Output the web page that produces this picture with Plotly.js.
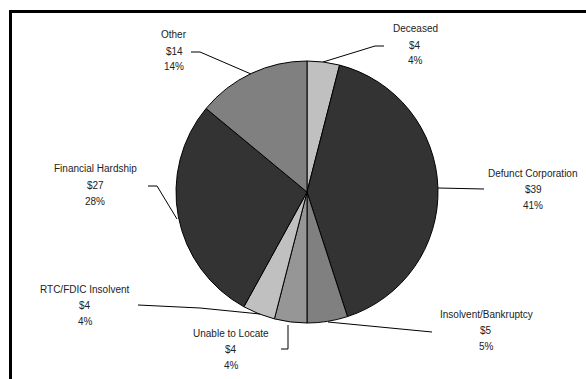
<!DOCTYPE html>
<html>
<head>
<meta charset="utf-8">
<script src="https://cdn.plot.ly/plotly-3.0.1.min.js"></script>
<style>html,body{margin:0;padding:0;background:#fff;overflow:hidden;}#chart{width:586px;height:379px;overflow:hidden;}</style>
</head>
<body>
<div id="chart"></div>
<script>
// Data
var categories = ["Deceased", "Defunct Corporation", "Insolvent/Bankruptcy", "Unable to Locate", "RTC/FDIC Insolvent", "Financial Hardship", "Other"];
var dollars = [4, 39, 5, 4, 4, 27, 14];
var percents = [4, 41, 5, 4, 4, 28, 14];

// Styles / layout (pixel positions in the 586x379 figure)
var sliceColors = ["#c0c0c0", "#333333", "#808080", "#969696", "#c0c0c0", "#333333", "#808080"];
var W = 586, H = 379;
var labelPos = [ // [centerX, firstLineCenterY]
  [415, 29], [533, 173], [486, 314], [231, 333], [85, 289], [95, 169], [174, 35]
];
var leaderPaths = [
  [[384,46],[375,46],[323,62]],
  [[438,188],[484,189]],
  [[432,332],[328,322]],
  [[281,349],[288,349],[288,325]],
  [[138,305],[200,308],[260,314]],
  [[148,186],[157,186],[177,219]],
  [[191,52],[200,52],[251,74]]
];
var lineGap = 16;
var cx = 307, cy = 192, r = 131;

function px(x){ return x / W; }
function py(y){ return 1 - y / H; }

var annotations = [];
categories.forEach(function(c, i){
  var lines = [c, "$" + dollars[i], percents[i] + "%"];
  lines.forEach(function(t, j){
    annotations.push({
      text: t, showarrow: false, xref: "paper", yref: "paper",
      x: px(labelPos[i][0]), y: py(labelPos[i][1] + j * lineGap),
      xanchor: "center", yanchor: "middle",
      font: {family: "Liberation Sans, Arial, sans-serif", size: 10, color: "#222"}
    });
  });
});

var shapes = [
  {type: "rect", xref: "paper", yref: "paper", x0: px(579), y0: py(14), x1: px(W), y1: py(H), line: {width: 0}, fillcolor: "#fff"},
  {type: "line", xref: "paper", yref: "paper", x0: px(9), y0: py(11.5), x1: px(W), y1: py(11.5), line: {color: "#000", width: 3}},
  {type: "line", xref: "paper", yref: "paper", x0: px(10.5), y0: py(10), x1: px(10.5), y1: py(H), line: {color: "#000", width: 3}}
];
leaderPaths.forEach(function(p){
  var d = p.map(function(pt, k){ return (k ? "L" : "M") + px(pt[0]) + "," + py(pt[1]); }).join(" ");
  shapes.push({type: "path", xref: "paper", yref: "paper", path: d, line: {color: "#000", width: 1}});
});

var trace = {
  type: "pie",
  labels: categories,
  values: percents,
  sort: false,
  direction: "clockwise",
  rotation: 0,
  textinfo: "none",
  hoverinfo: "label+value",
  marker: {colors: sliceColors, line: {color: "#000", width: 1}},
  domain: {x: [px(cx - r), px(cx + r)], y: [py(cy + r), py(cy - r)]},
  showlegend: false
};

var layout = {
  width: W, height: H,
  margin: {l: 0, r: 0, t: 0, b: 0},
  paper_bgcolor: "#fff",
  showlegend: false,
  annotations: annotations,
  shapes: shapes
};

Plotly.newPlot("chart", [trace], layout, {displayModeBar: false, staticPlot: true});
</script>
</body>
</html>
